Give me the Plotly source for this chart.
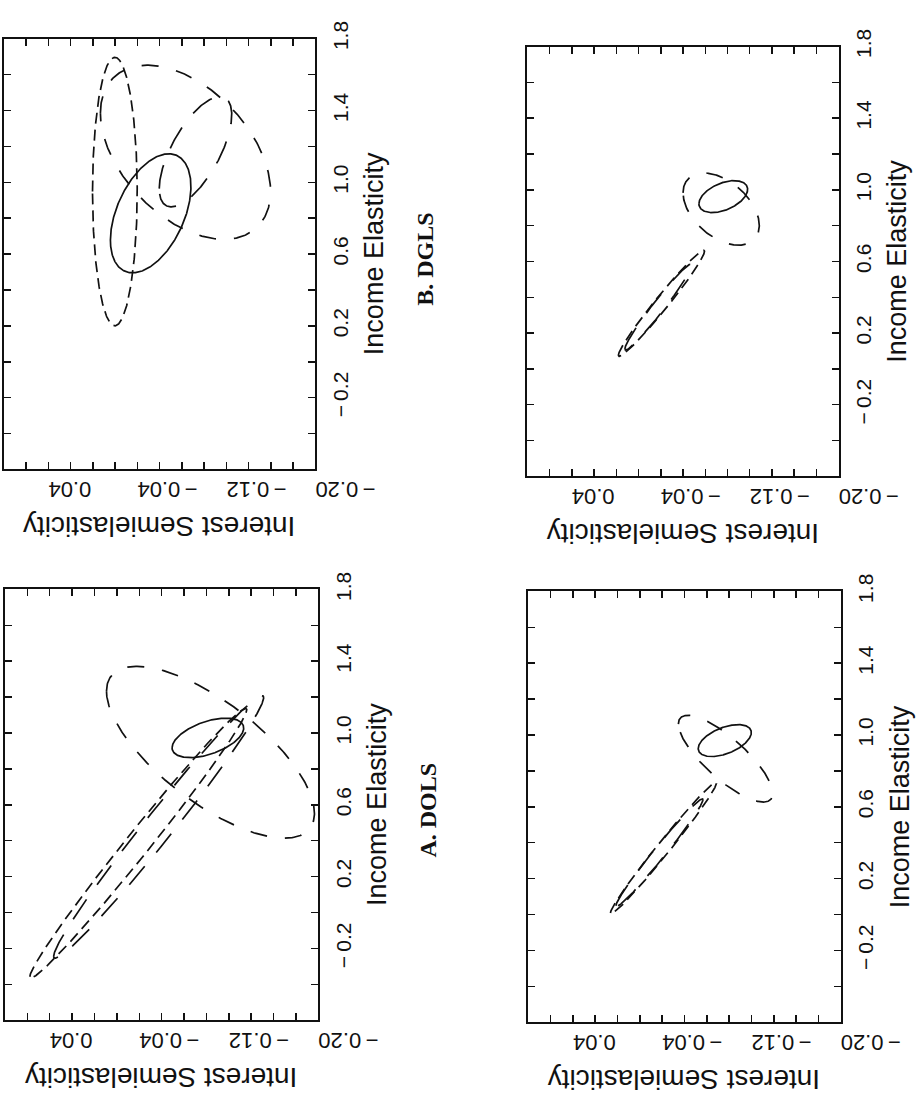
import numpy as np
import plotly.graph_objects as go

# ---------------- data ----------------
# Each panel: four confidence ellipses (solid, short dash, medium dash, long dash)
# given by centre, half-ranges and correlation of (interest semielasticity, income elasticity)
panel_names = ["B. DGLS", "A. DOLS", "", ""]

b_center_s = [-0.0519, -0.0197, -0.0832, -0.0922]
b_center_e = [0.827, 0.948, 1.167, 1.170]
b_half_s = [0.0362, 0.0201, 0.0765, 0.0326]
b_half_e = [0.3315, 0.748, 0.485, 0.307]
b_corr = [-0.45, 0.0, 0.45, -0.67]

a_center_s = [-0.1013, -0.0391, -0.1036, -0.0573]
a_center_e = [0.973, 0.386, 0.893, 0.477]
a_half_s = [0.032, 0.0969, 0.0929, 0.0938]
a_half_e = [0.110, 0.751, 0.479, 0.7315]
a_corr = [-0.5, -0.99, 0.71, -0.985]

c_center_s = [-0.0962, -0.0406, -0.0943, -0.0377]
c_center_e = [0.962, 0.366, 0.892, 0.345]
c_half_s = [0.0219, 0.0387, 0.0343, 0.030]
c_half_e = [0.0893, 0.2957, 0.2016, 0.240]
c_corr = [-0.45, -0.98, 0.45, -0.975]

d_center_s = [-0.0961, -0.0411, -0.0968, -0.0375]
d_center_e = [0.969, 0.370, 0.868, 0.344]
d_half_s = [0.0238, 0.0475, 0.0423, 0.039]
d_half_e = [0.0891, 0.366, 0.2415, 0.300]
d_corr = [-0.5, -0.988, 0.80, -0.985]

x_tick_vals = [0.08, 0.06, 0.04, 0.02, 0.0, -0.02, -0.04, -0.06, -0.08,
               -0.10, -0.12, -0.14, -0.16, -0.18, -0.20]
x_tick_text = ["", "", "0.04", "", "", "", "\u2212\u20090.04", "", "",
               "", "\u2212\u20090.12", "", "", "", "\u2212\u20090.20"]
y_tick_vals = [-0.6, -0.4, -0.2, 0.0, 0.2, 0.4, 0.6, 0.8, 1.0, 1.2, 1.4, 1.6, 1.8]
y_tick_text = ["", "", "\u2212\u20090.2", "", "0.2", "", "0.6", "", "1.0", "", "1.4", "", "1.8"]

x_title = "Interest Semielasticity"
y_title = "Income Elasticity"

# ---------------- layout geometry ----------------
# positions are given in picture pixels; KX corrects the horizontal scale seen in the photograph
KX = 0.943
W = int(round(916 / KX))
H = 1095
# box in picture pixels: x0, x1, y0(top), y1(bottom)
boxes = [(4, 317, 21, 459), (5, 320, 581, 1019), (530, 843, 29, 466), (531, 845, 583, 1021)]
dashes = ["solid", "11px,6px", "17px,18px", "24px,18px"]

panels = [
    (b_center_s, b_center_e, b_half_s, b_half_e, b_corr),
    (a_center_s, a_center_e, a_half_s, a_half_e, a_corr),
    (c_center_s, c_center_e, c_half_s, c_half_e, c_corr),
    (d_center_s, d_center_e, d_half_s, d_half_e, d_corr),
]


def px(xp):
    return min(max(xp / KX / W, 0), 1)


def py(yp):
    return min(max(1 - yp / H, 0), 1)


t = np.linspace(0, 2 * np.pi, 400)
fig = go.Figure()
layout = dict(width=W, height=H, margin=dict(l=0, r=0, t=0, b=0),
              paper_bgcolor="white", plot_bgcolor="white", showlegend=False)
annotations = []
font = "Liberation Sans, Arial, sans-serif"

for i, (cs, ce, hs, he, rho) in enumerate(panels):
    k = "" if i == 0 else str(i + 1)
    for j in range(len(cs)):
        r = rho[j]
        xs = cs[j] + hs[j] * np.cos(t)
        ys = ce[j] + he[j] * (r * np.cos(t) + np.sqrt(1 - r * r) * np.sin(t))
        fig.add_trace(go.Scatter(x=xs, y=ys, mode="lines", xaxis="x" + k, yaxis="y" + k,
                                 line=dict(color="#111", width=1.7, dash=dashes[j]),
                                 hoverinfo="skip"))
    x0, x1, y0, y1 = boxes[i]
    layout["xaxis" + k] = dict(domain=[px(x0), px(x1)], range=[0.08, -0.20],
                               anchor="y" + k, tickmode="array", tickvals=x_tick_vals,
                               ticktext=x_tick_text, ticks="inside", ticklen=7, tickwidth=1.5,
                               tickcolor="#111", showline=True, linewidth=2, linecolor="#111",
                               mirror="allticks", showgrid=False, zeroline=False, tickangle=180,
                               ticklabelstandoff=6,
                               tickfont=dict(family=font, size=22, color="#111"))
    layout["yaxis" + k] = dict(domain=[py(y1), py(y0)], range=[-0.6, 1.8],
                               anchor="x" + k, side="right", tickmode="array",
                               tickvals=y_tick_vals, ticktext=y_tick_text, ticks="inside",
                               ticklen=7, tickwidth=1.5, tickcolor="#111", showline=True,
                               linewidth=2, linecolor="#111", mirror="allticks", showgrid=False,
                               zeroline=False, tickangle=-90, ticklabelstandoff=5,
                               tickfont=dict(family=font, size=21, color="#111"))
    cx = (x0 + x1) / 2
    cy = (y0 + y1) / 2
    annotations.append(dict(text=x_title, x=px(cx), y=py(y1 + 58), xref="paper", yref="paper",
                            showarrow=False, textangle=180, xanchor="center", yanchor="middle",
                            font=dict(family=font, size=28, color="#111")))
    annotations.append(dict(text=y_title, x=px(x1 + 59), y=py(cy), xref="paper", yref="paper",
                            showarrow=False, textangle=-90, xanchor="center", yanchor="middle",
                            font=dict(family=font, size=27, color="#111")))
    if panel_names[i]:
        annotations.append(dict(text="<b>" + panel_names[i] + "</b>", x=px(x1 + 110),
                                y=py(cy + 5), xref="paper", yref="paper",
                                showarrow=False, textangle=-90, xanchor="center", yanchor="middle",
                                font=dict(family="Liberation Serif, Times New Roman, serif",
                                          size=24, color="#111")))

layout["annotations"] = annotations
fig.update_layout(**layout)
fig.write_html("out.html", config={"displayModeBar": False, "staticPlot": True},
               post_script="document.body.style.margin='0px';document.body.style.overflow='hidden';")
